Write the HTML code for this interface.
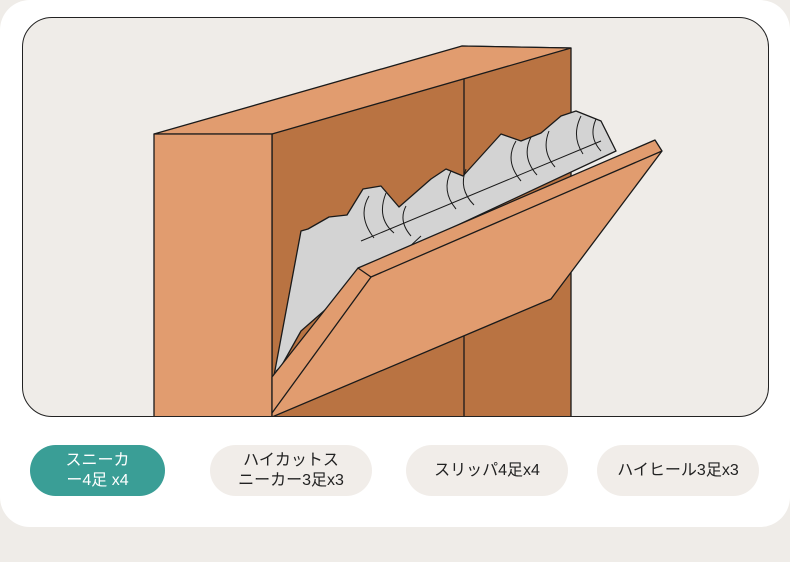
<!DOCTYPE html>
<html><head><meta charset="utf-8"><style>
body{margin:0;width:790px;height:562px;background:#efece8;overflow:hidden;font-family:"Liberation Sans","Noto Sans CJK JP",sans-serif;}
.card{position:absolute;left:0;top:0;width:790px;height:527px;background:#fff;border-radius:30px;}
.frame{position:absolute;left:22px;top:17px;width:745px;height:398px;border:1.5px solid #222;border-radius:30px;background:#efece8;overflow:hidden;}
.btn{position:absolute;top:445px;height:51px;border-radius:26px;background:#f1ede9;color:#222;font-size:16px;display:flex;align-items:center;justify-content:center;text-align:center;line-height:20px;}
</style></head><body>
<div class="card"></div>
<div class="frame">
<svg width="745" height="398" viewBox="22 17 745 398" style="position:absolute;left:0;top:0">
<g stroke="#1a1a1a" stroke-width="1.3" stroke-linejoin="round">
<polygon points="271,133 461,45 570,47 570,420 271,420" fill="#b97342"/>
<line x1="463" y1="78" x2="463" y2="420"/>
<polygon points="153,133 461,45 570,47 271,133" fill="#e19c6f"/>
<polygon points="153,133 271,133 271,420 153,420" fill="#e19c6f"/>
<path d="M272,380 L300,230 L307,228 L328,216 L346,214 L362,188 L380,185 L398,206 L430,178 L445,168 L462,175 L500,133 L520,140 L540,132 L560,115 L575,110 L600,120 L615,150 L380,260 L300,330 Z" fill="#d3d3d3"/>
<g fill="none" stroke-width="1">
<path d="M368,195 q-12,20 5,42 M385,192 q-10,25 8,40 M405,205 q-8,15 5,30"/>
<path d="M450,170 q-10,20 5,38 M465,168 q-8,20 8,36"/>
<path d="M515,140 q-12,20 5,40 M530,136 q-10,20 6,38 M548,130 q-8,20 6,36"/>
<path d="M580,115 q-10,20 2,38 M595,118 q-8,18 5,32"/>
<path d="M275,370 L420,235 M360,240 L600,140"/>
</g>
<polygon points="357,267 654,139 661,150 550,298 271,416 271,376" fill="#e19c6f"/>
<polyline points="357,267 370,276 661,150" fill="none"/>
<line x1="370" y1="276" x2="271" y2="412"/>
</g>
</svg>
</div>
<div class="btn" style="left:30px;width:135px;background:#3a9e96;color:#fff;">スニーカ<br>ー4足 x4</div>
<div class="btn" style="left:210px;width:162px;">ハイカットス<br>ニーカー3足x3</div>
<div class="btn" style="left:406px;width:162px;">スリッパ4足x4</div>
<div class="btn" style="left:597px;width:162px;">ハイヒール3足x3</div>
</body></html>
